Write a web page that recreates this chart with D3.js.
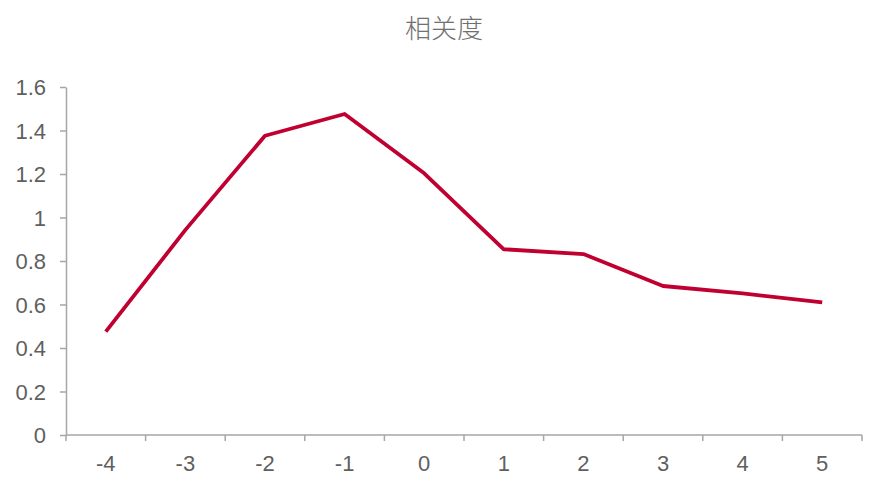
<!DOCTYPE html>
<meta charset="utf-8">
<style>
  body { margin: 0; background: #fff; }
  .axis path, .axis line { stroke: #a6a6a6; stroke-width: 1.5px; }
  .axis text { fill: #5f5f5f; font-family: "Liberation Sans", Arial, sans-serif; font-size: 22px; }
  .title { fill: #707070; font-family: "Noto Sans CJK SC", sans-serif; font-size: 26px; font-weight: 300; text-anchor: middle; }
</style>
<svg class="chart" width="882" height="483"></svg>
<script src="https://d3js.org/d3.v7.min.js"></script>
<script>
  var categories = ["-4", "-3", "-2", "-1", "0", "1", "2", "3", "4", "5"];
  var values = [0.475, 0.943, 1.376, 1.476, 1.203, 0.854, 0.832, 0.685, 0.651, 0.610];
  var yTicks = [0, 0.2, 0.4, 0.6, 0.8, 1, 1.2, 1.4, 1.6];

  var svg = d3.select(".chart"),
      margin = {top: 87, right: 20, bottom: 48, left: 66},
      width = +svg.attr("width") - margin.left - margin.right,
      height = +svg.attr("height") - margin.top - margin.bottom;

  var x = d3.scaleBand().domain(categories).range([0, width]);
  var y = d3.scaleLinear().domain([0, 1.6]).range([height, 0]);

  var g = svg.append("g").attr("transform", "translate(" + margin.left + "," + margin.top + ")");

  svg.append("text")
      .attr("class", "title")
      .attr("x", 444)
      .attr("y", 38)
      .text("相关度");

  g.append("g")
      .attr("class", "axis")
      .call(d3.axisLeft(y).tickValues(yTicks).tickFormat(d3.format("")).tickSizeInner(6).tickSizeOuter(0).tickPadding(14))
      .call(function (s) { s.selectAll("text").attr("dy", "0.36em"); });

  // x ticks sit on the band edges
  var xAxis = g.append("g")
      .attr("class", "axis")
      .attr("transform", "translate(0," + height + ")");
  xAxis.append("path").attr("d", "M0,0H" + width);
  var edges = categories.map(function (c) { return x(c); }).concat([width]);
  xAxis.selectAll(".edge").data(edges).enter().append("line")
      .attr("x1", function (d) { return d; }).attr("x2", function (d) { return d; })
      .attr("y1", 0).attr("y2", 6);
  xAxis.selectAll(".lbl").data(categories).enter().append("text")
      .attr("x", function (d) { return x(d) + x.bandwidth() / 2; })
      .attr("y", 36)
      .attr("text-anchor", "middle")
      .text(function (d) { return d; });

  var line = d3.line()
      .x(function (d, i) { return x(categories[i]) + x.bandwidth() / 2; })
      .y(function (d) { return y(d); });

  g.append("path")
      .datum(values)
      .attr("fill", "none")
      .attr("stroke", "#c00030")
      .attr("stroke-width", 3.8)
      .attr("stroke-linejoin", "round")
      .attr("d", line);
</script>
